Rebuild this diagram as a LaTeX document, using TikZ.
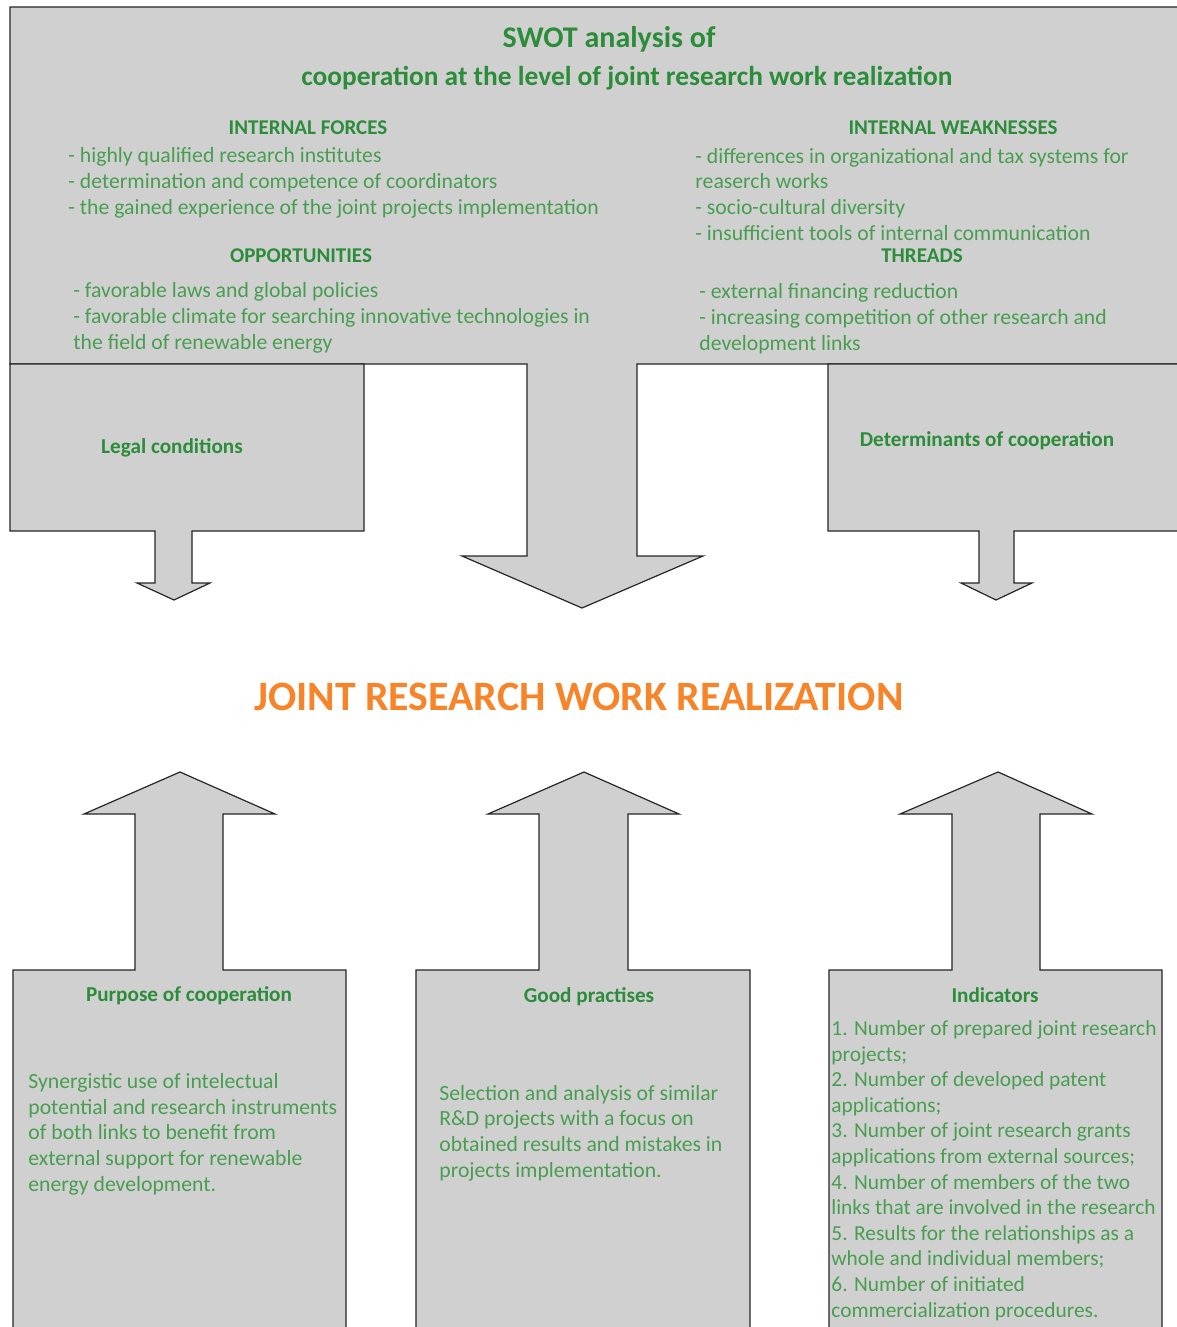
\documentclass[tikz,border=0pt]{standalone}
\usepackage{fontspec}
\setmainfont{Carlito}
\usetikzlibrary{positioning}
\definecolor{swotgreen}{RGB}{43,140,58}
\definecolor{textgreen}{RGB}{72,158,80}
\definecolor{titleorange}{RGB}{247,132,40}
\definecolor{boxgray}{RGB}{208,208,208}
\tikzset{
	blockfill/.style={fill=boxgray, draw=black!85, line width=0.6pt, line join=miter},
	swothead/.style={font=\bfseries\fontsize{15}{19}\selectfont, text=swotgreen, inner sep=0pt, anchor=base},
	swotsub/.style={font=\bfseries\fontsize{10.5}{12}\selectfont, text=swotgreen, inner sep=0pt, anchor=base},
	boxtitle/.style={font=\bfseries\fontsize{10.6}{12}\selectfont, text=swotgreen, inner sep=0pt, anchor=base},
	listtext/.style={font=\fontsize{10.85}{12.8}\selectfont, text=textgreen, align=left, inner sep=0pt, anchor=base west}
}

\begin{document}
\begin{tikzpicture}[x=0.5pt, y=-0.5pt]
	\useasboundingbox (0,0) rectangle (1177,1327);
	% SWOT block with the big arrow
	\draw[blockfill] (10,7) -- (1190,7) -- (1190,364) -- (637,364) -- (637,556) -- (703,556) -- (582,608) -- (462,556) -- (527,556) -- (527,364) -- (10,364) -- cycle;
	\draw[blockfill] (10,364) -- (364,364) -- (364,531) -- (192,531) -- (192,583) -- (210,583) -- (174,600) -- (137,583) -- (155,583) -- (155,531) -- (10,531) -- cycle;
	\draw[blockfill] (828,364) -- (1190,364) -- (1190,531) -- (1014,531) -- (1014,583) -- (1032,583) -- (996,600) -- (961,583) -- (979,583) -- (979,531) -- (828,531) -- cycle;
	% bottom blocks
	\draw[blockfill] (13,1340) -- (13,970) -- (135,970) -- (135,814) -- (84,814) -- (180,772) -- (275,814) -- (223,814) -- (223,970) -- (346,970) -- (346,1340);
	\draw[blockfill] (416,1340) -- (416,970) -- (539,970) -- (539,814) -- (488,814) -- (584,772) -- (679,814) -- (628,814) -- (628,970) -- (750,970) -- (750,1340);
	\draw[blockfill] (829,1340) -- (829,970) -- (952,970) -- (952,814) -- (900,814) -- (998,772) -- (1092,814) -- (1040,814) -- (1040,970) -- (1162,970) -- (1162,1340);

	% multi-line nodes sit on the baseline of their last line
	\node[swothead] (swot) at (609,48) {SWOT analysis of};
	\node[swothead, font=\bfseries\fontsize{13.7}{19}\selectfont] (swotsub) at (627,86) {cooperation at the level of joint research work realization};

	\node[swotsub] (forces) at (308,134) {INTERNAL FORCES};
	\node[listtext] (forcelist) at (68,214) {- highly qualified research institutes\\- determination and competence of coordinators\\- the gained experience of the joint projects implementation};
	\node[swotsub] (opport) at (301,262) {OPPORTUNITIES};
	\node[listtext] (opportlist) at (73,349) {- favorable laws and global policies\\- favorable climate for searching innovative technologies in\\the field of renewable energy};

	\node[swotsub] (weak) at (953,134) {INTERNAL WEAKNESSES};
	\node[listtext] (weaklist) at (695,240) {- differences in organizational and tax systems for\\reaserch works\\- socio-cultural diversity\\- insufficient tools of internal communication};
	\node[swotsub] (threads) at (922,262) {THREADS};
	\node[listtext] (threadlist) at (699,350) {- external financing reduction\\- increasing competition of other research and\\development links};

	\node[boxtitle] (legal) at (172,453) {Legal conditions};
	\node[boxtitle] (determ) at (987,446) {Determinants of cooperation};

	\node[font=\bfseries\fontsize{20.9}{24}\selectfont, text=titleorange, inner sep=0pt, anchor=base] (realization) at (579,710) {JOINT RESEARCH WORK REALIZATION};

	\node[boxtitle] (purpose) at (189,1001) {Purpose of cooperation};
	\node[listtext] (purposetext) at (28,1191) {Synergistic use of intelectual\\potential and research instruments\\of both links to benefit from\\external support for renewable\\energy development.};
	\node[boxtitle] (practise) at (589,1002) {Good practises};
	\node[listtext] (practisetext) at (439,1177) {Selection and analysis of similar\\R\&D projects with a focus on\\obtained results and mistakes in\\projects implementation.};
	\node[boxtitle] (indic) at (995,1002) {Indicators};
	\node[listtext, font=\fontsize{10.7}{12.8}\selectfont] (indictext) at (831,1317) {1. Number of prepared joint research\\projects;\\2. Number of developed patent\\applications;\\3. Number of joint research grants\\applications from external sources;\\4. Number of members of the two\\links that are involved in the research\\5. Results for the relationships as a\\whole and individual members;\\6. Number of initiated\\commercialization procedures.};
\end{tikzpicture}
\end{document}
